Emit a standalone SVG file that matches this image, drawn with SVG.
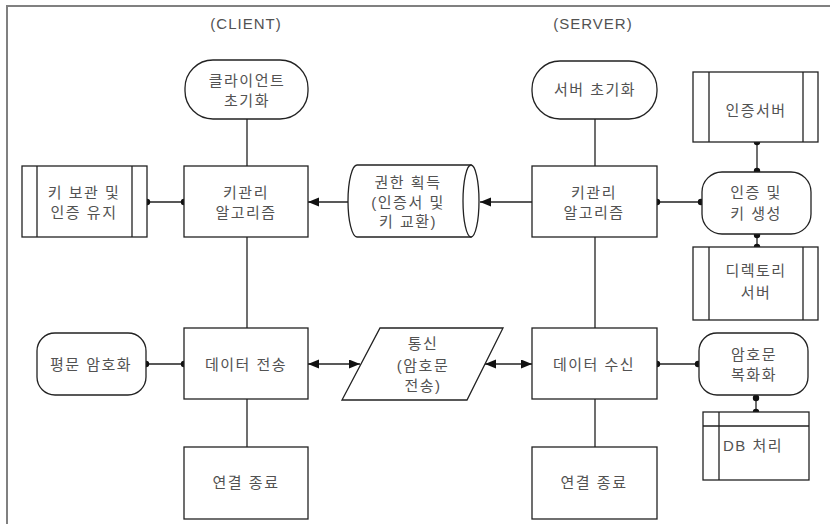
<svg xmlns="http://www.w3.org/2000/svg" width="830" height="524" viewBox="0 0 830 524">
  <style>
    .shape { fill: #ffffff; stroke: #222222; stroke-width: 1.3; }
    .inner { fill: none; stroke: #222222; stroke-width: 1.3; }
    .line { fill: none; stroke: #222222; stroke-width: 1.3; }
    .dot { fill: #111111; }
    text { font-family: "Liberation Sans", "Noto Sans CJK KR", sans-serif; font-size: 15px; fill: #525252; text-anchor: middle; dominant-baseline: central; letter-spacing: 1.5px; }
    .title { letter-spacing: 1px; }
  </style>
  <defs>
    <marker id="arrow" markerUnits="userSpaceOnUse" markerWidth="12" markerHeight="10" refX="11" refY="4.5" orient="auto-start-reverse">
      <path d="M0,0 L11,4.5 L0,9 z" fill="#111111"/>
    </marker>
  </defs>

  <rect x="0" y="0" width="830" height="524" fill="#ffffff"/>
  <!-- page frame -->
  <path d="M7,524 V6 H830" fill="none" stroke="#808080" stroke-width="2"/>

  <text class="title" x="246" y="23">(CLIENT)</text>
  <text class="title" x="593" y="23">(SERVER)</text>

  <!-- connectors -->
  <g id="connectors">
    <path class="line" d="M247,119 V166 M247,237 V328 M247,399 V447"/>
    <path class="line" d="M595,119 V166 M595,237 V328 M595,399 V447"/>
    <path class="line" d="M147,202 H184 M657,202 H702 M146,364 H184 M657,364 H699"/>
    <path class="line" d="M757,142 V172 M757,234 V247 M756,395 V412"/>
    <path class="line" d="M348,202 H308" marker-end="url(#arrow)"/>
    <path class="line" d="M532,202 H480" marker-end="url(#arrow)"/>
    <path class="line" d="M308,364 H360" marker-start="url(#arrow)" marker-end="url(#arrow)"/>
    <path class="line" d="M485,364 H532" marker-start="url(#arrow)" marker-end="url(#arrow)"/>
    <circle class="dot" cx="147" cy="202" r="3.2"/>
    <circle class="dot" cx="184" cy="202" r="3.2"/>
    <circle class="dot" cx="657" cy="202" r="3.2"/>
    <circle class="dot" cx="701" cy="202" r="3.2"/>
    <circle class="dot" cx="146" cy="364" r="3.2"/>
    <circle class="dot" cx="184" cy="364" r="3.2"/>
    <circle class="dot" cx="657" cy="364" r="3.2"/>
    <circle class="dot" cx="698" cy="364" r="3.2"/>
    <circle class="dot" cx="757" cy="142" r="3.2"/>
    <circle class="dot" cx="757" cy="171" r="3.2"/>
    <circle class="dot" cx="757" cy="235" r="3.2"/>
    <circle class="dot" cx="757" cy="247" r="3.2"/>
    <circle class="dot" cx="756" cy="398" r="3.2"/>
    <circle class="dot" cx="756" cy="412" r="3.2"/>
  </g>

  <!-- client column -->
  <g id="client-init">
    <rect class="shape" x="185" y="60" width="123" height="59" rx="28" ry="28"/>
    <text x="247" y="80">클라이언트</text>
    <text x="247" y="100">초기화</text>
  </g>
  <g id="client-keymgmt">
    <rect class="shape" x="184" y="166" width="124" height="71"/>
    <text x="246" y="192">키관리</text>
    <text x="246" y="212">알고리즘</text>
  </g>
  <g id="key-store">
    <rect class="shape" x="22" y="166" width="125" height="71"/>
    <path class="inner" d="M37,166 V237 M132,166 V237"/>
    <text x="84" y="192">키 보관 및</text>
    <text x="84" y="212">인증 유지</text>
  </g>
  <g id="client-send">
    <rect class="shape" x="184" y="328" width="124" height="71"/>
    <text x="246" y="364">데이터 전송</text>
  </g>
  <g id="plain-encrypt">
    <rect class="shape" x="37" y="333" width="109" height="62" rx="18" ry="18"/>
    <text x="91" y="364">평문 암호화</text>
  </g>
  <g id="client-close">
    <rect class="shape" x="184" y="447" width="124" height="72"/>
    <text x="246" y="482">연결 종료</text>
  </g>

  <!-- shared middle -->
  <g id="auth-exchange">
    <path class="shape" d="M357,165 H471 V237 H357 A9,36 0 0 1 357,165 z"/>
    <ellipse class="shape" cx="471" cy="201" rx="8" ry="36"/>
    <text x="408" y="182">권한 획득</text>
    <text x="408" y="202">(인증서 및</text>
    <text x="408" y="221">키 교환)</text>
  </g>
  <g id="comm">
    <path class="shape" d="M380,328 H503 L467,400 H342 z"/>
    <text x="423" y="343">통신</text>
    <text x="423" y="365">(암호문</text>
    <text x="423" y="385">전송)</text>
  </g>

  <!-- server column -->
  <g id="server-init">
    <rect class="shape" x="532" y="61" width="125" height="58" rx="28" ry="28"/>
    <text x="595" y="89">서버 초기화</text>
  </g>
  <g id="server-keymgmt">
    <rect class="shape" x="532" y="166" width="125" height="71"/>
    <text x="594" y="192">키관리</text>
    <text x="594" y="212">알고리즘</text>
  </g>
  <g id="auth-server">
    <rect class="shape" x="693" y="72" width="125" height="70"/>
    <path class="inner" d="M709,72 V142 M803,72 V142"/>
    <text x="756" y="110">인증서버</text>
  </g>
  <g id="auth-keygen">
    <rect class="shape" x="702" y="172" width="109" height="62" rx="20" ry="20"/>
    <text x="756" y="192">인증 및</text>
    <text x="756" y="213">키 생성</text>
  </g>
  <g id="directory-server">
    <rect class="shape" x="693" y="247" width="125" height="73"/>
    <path class="inner" d="M709,247 V320 M803,247 V320"/>
    <text x="756" y="270">디렉토리</text>
    <text x="756" y="292">서버</text>
  </g>
  <g id="server-recv">
    <rect class="shape" x="532" y="328" width="125" height="71"/>
    <text x="594" y="364">데이터 수신</text>
  </g>
  <g id="cipher-decrypt">
    <rect class="shape" x="699" y="333" width="109" height="62" rx="18" ry="18"/>
    <text x="754" y="354">암호문</text>
    <text x="754" y="374">복화화</text>
  </g>
  <g id="db-process">
    <rect class="shape" x="703" y="412" width="106" height="68"/>
    <path class="inner" d="M703,426 H809 M719,412 V480"/>
    <text x="723" y="445" style="text-anchor:start">DB 처리</text>
  </g>
  <g id="server-close">
    <rect class="shape" x="532" y="447" width="125" height="72"/>
    <text x="594" y="482">연결 종료</text>
  </g>
</svg>
